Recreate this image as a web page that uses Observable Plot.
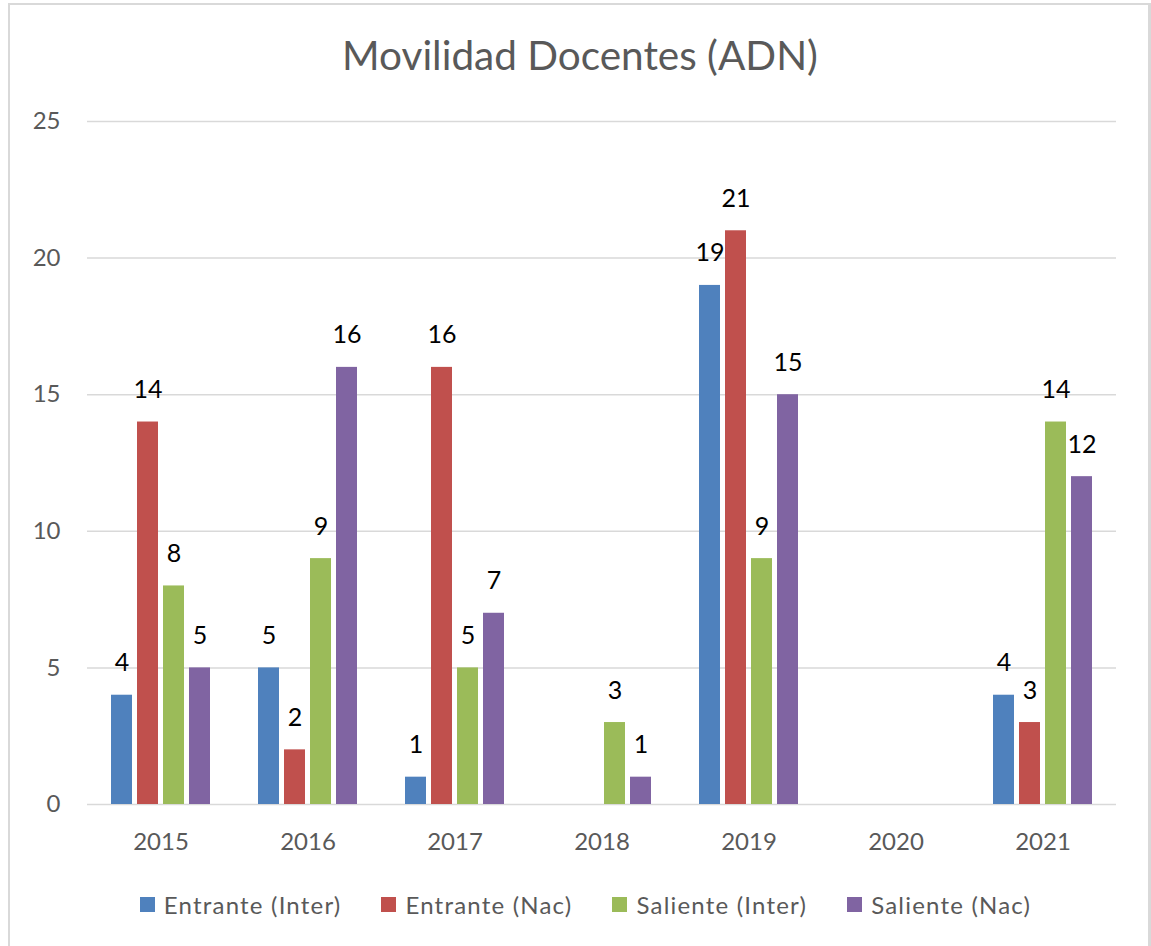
<!DOCTYPE html>
<html>
<head>
<meta charset="utf-8">
<script src="https://cdn.jsdelivr.net/npm/d3@7"></script>
<script src="https://cdn.jsdelivr.net/npm/@observablehq/plot@0.6"></script>
<style>
  html, body { margin: 0; padding: 0; background: #fff; }
  body { width: 1151px; height: 946px; position: relative; overflow: hidden; font-family: Lato, "Open Sans", sans-serif; }
  #frame { position: absolute; left: 8px; top: 3px; width: 1143px; height: 960px; border: 2px solid #d9d9d9; border-right-width: 3px; box-sizing: border-box; }
  #title { position: absolute; left: 0; width: 1160px; top: 35px; text-align: center; font-size: 40.5px; color: #595959; line-height: 1; }
  #chart { position: absolute; left: 0; top: 0; }
  #legend { position: absolute; left: 0; width: 1171px; top: 890px; display: flex; justify-content: center; gap: 40px; font-size: 24px; letter-spacing: 1.2px; color: #595959; }
  .item { display: flex; align-items: center; gap: 9px; }
  .sw { width: 15px; height: 15px; display: inline-block; }
</style>
</head>
<body>
<div id="frame"></div>
<div id="title">Movilidad Docentes (ADN)</div>
<div id="chart"></div>
<div id="legend"></div>
<script>
const years = ["2015", "2016", "2017", "2018", "2019", "2020", "2021"];
const series = ["Entrante (Inter)", "Entrante (Nac)", "Saliente (Inter)", "Saliente (Nac)"];
const colors = ["#4F81BD", "#C0504D", "#9BBB59", "#8064A2"];
const entranteInter = [4, 5, 1, null, 19, null, 4];
const entranteNac   = [14, 2, 16, null, 21, null, 3];
const salienteInter = [8, 9, 5, 3, 9, null, 14];
const salienteNac   = [5, 16, 7, 1, 15, null, 12];
const yTicks = [0, 5, 10, 15, 20, 25];

const valuesBySeries = [entranteInter, entranteNac, salienteInter, salienteNac];
const data = [];
years.forEach((yr, i) => {
  series.forEach((s, j) => {
    const v = valuesBySeries[j][i];
    if (v != null) data.push({year: yr, series: s, value: v});
  });
});
const gridData = years.flatMap(yr => yTicks.map(t => ({year: yr, tick: t})));

const plot = Plot.plot({
  width: 1151,
  height: 870,
  marginLeft: 85,
  marginRight: 33,
  marginTop: 121,
  marginBottom: 66,
  style: { fontFamily: "Lato, 'Open Sans', sans-serif", background: "transparent" },
  fx: { domain: years, padding: 0, label: null, axis: null },
  x: { domain: series, paddingInner: 0.2, paddingOuter: 0.9, axis: null },
  y: { domain: [0, 25], ticks: yTicks, axis: null },
  color: { domain: series, range: colors },
  marks: [
    Plot.ruleY(gridData, { fx: "year", y: "tick", stroke: "#d9d9d9", strokeWidth: 1.5 }),
    Plot.barY(data, { fx: "year", x: "series", y: "value", fill: "series" }),
    Plot.text(data, { fx: "year", x: "series", y: "value", text: d => String(d.value), dy: -32, fontSize: 25, fill: "#000" }),
    Plot.axisY(yTicks, { anchor: "left", tickSize: 0, tickPadding: 27, fontSize: 24, color: "#595959", label: null }),
    Plot.axisFx({ anchor: "bottom", tickSize: 0, tickPadding: 28, fontSize: 24, color: "#595959", label: null })
  ]
});
document.getElementById("chart").appendChild(plot);

const legend = document.getElementById("legend");
series.forEach((s, j) => {
  const it = document.createElement("div");
  it.className = "item";
  it.innerHTML = `<span class="sw" style="background:${colors[j]}"></span><span>${s}</span>`;
  legend.appendChild(it);
});
</script>
</body>
</html>
